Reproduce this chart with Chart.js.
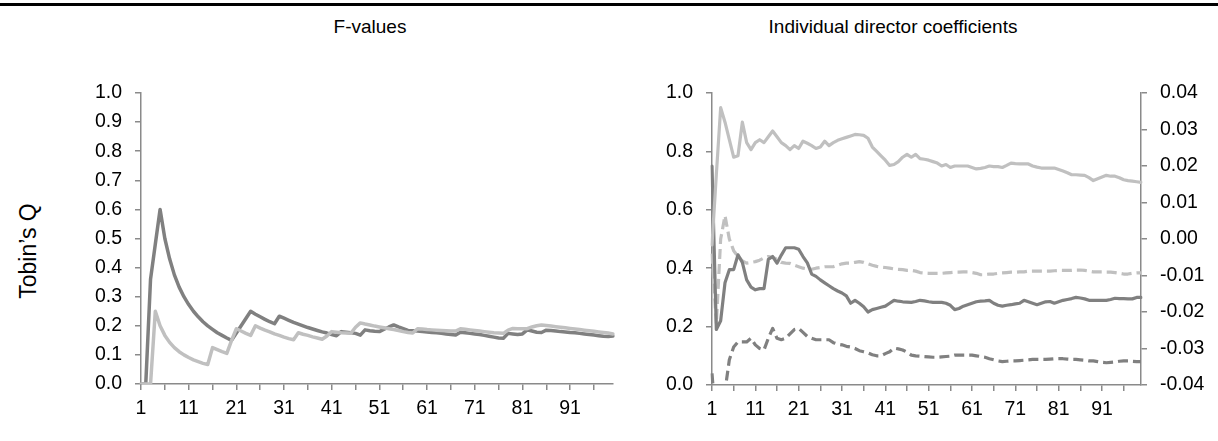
<!DOCTYPE html>
<html><head><meta charset="utf-8">
<script src="https://cdn.jsdelivr.net/npm/chart.js@4.4.1/dist/chart.umd.min.js"></script>
<style>
html,body{margin:0;padding:0;background:#fff;}
body{width:1218px;height:441px;position:relative;overflow:hidden;font-family:"Liberation Sans",Arial,sans-serif;color:#000;}
#rule{position:absolute;left:0;top:3px;width:1218px;height:3px;background:#000;}
.title{position:absolute;top:15px;font-size:19px;line-height:24px;text-align:center;white-space:nowrap;}
#t1{left:270px;width:200px;}
#t2{left:743px;width:300px;}
#ylab{position:absolute;left:28px;top:251px;font-size:23px;line-height:26px;transform:translate(-50%,-50%) rotate(-90deg);white-space:nowrap;}
#c1{position:absolute;left:0;top:0;}
#c2{position:absolute;left:640px;top:0;}
</style></head>
<body>
<div id="rule"></div>
<div class="title" id="t1">F-values</div>
<div class="title" id="t2">Individual director coefficients</div>
<div id="ylab">Tobin’s Q</div>
<canvas id="c1" width="630" height="441"></canvas>
<canvas id="c2" width="578" height="441"></canvas>
<script>
// ---- data ----
const CATEGORIES = Array.from({length: 100}, (_, i) => String(i + 1));

// F-values (left panel)
const fDark = [
  0, 0, 0.36, 0.48, 0.60, 0.50, 0.43, 0.375, 0.333, 0.30,
  0.273, 0.25, 0.231, 0.214, 0.20, 0.188, 0.176, 0.167, 0.158, 0.15,
  0.175, 0.20, 0.225, 0.25, 0.24, 0.231, 0.222, 0.214, 0.207, 0.233,
  0.226, 0.219, 0.212, 0.206, 0.20, 0.194, 0.189, 0.184, 0.179, 0.175,
  0.17, 0.166, 0.18, 0.178, 0.176, 0.174, 0.168, 0.186, 0.183, 0.181,
  0.18, 0.188, 0.196, 0.203, 0.196, 0.19, 0.184, 0.183, 0.182, 0.18,
  0.179, 0.177, 0.176, 0.174, 0.172, 0.17, 0.168, 0.178, 0.176, 0.174,
  0.172, 0.17, 0.167, 0.164, 0.161, 0.158, 0.157, 0.174, 0.172, 0.17,
  0.172, 0.186, 0.182, 0.178, 0.177, 0.185, 0.184, 0.182, 0.18, 0.179,
  0.177, 0.176, 0.174, 0.172, 0.17, 0.168, 0.166, 0.164, 0.163, 0.165
];
const fLight = [
  0, 0, 0, 0.25, 0.20, 0.167, 0.143, 0.125, 0.111, 0.10,
  0.091, 0.083, 0.077, 0.071, 0.067, 0.125, 0.118, 0.111, 0.105, 0.15,
  0.19, 0.182, 0.174, 0.167, 0.20, 0.192, 0.185, 0.179, 0.172, 0.167,
  0.161, 0.156, 0.152, 0.176, 0.171, 0.167, 0.162, 0.158, 0.154, 0.165,
  0.18, 0.178, 0.176, 0.175, 0.174, 0.195, 0.21, 0.206, 0.203, 0.199,
  0.196, 0.193, 0.19, 0.187, 0.184, 0.18, 0.177, 0.175, 0.19, 0.189,
  0.187, 0.186, 0.185, 0.184, 0.183, 0.182, 0.182, 0.19, 0.188, 0.186,
  0.184, 0.182, 0.18, 0.178, 0.176, 0.175, 0.174, 0.185, 0.191, 0.19,
  0.19, 0.19, 0.196, 0.20, 0.203, 0.201, 0.199, 0.197, 0.195, 0.193,
  0.191, 0.189, 0.187, 0.185, 0.183, 0.181, 0.179, 0.177, 0.175, 0.172
];

// Individual director coefficients (right panel)
const coefLightSolid = [
  0.48, 0.72, 0.95, 0.90, 0.84, 0.78, 0.785, 0.90, 0.83, 0.806,
  0.83, 0.84, 0.83, 0.85, 0.87, 0.85, 0.83, 0.82, 0.806, 0.82,
  0.81, 0.835, 0.828, 0.82, 0.81, 0.815, 0.835, 0.82, 0.83, 0.838,
  0.843, 0.848, 0.853, 0.858, 0.857, 0.855, 0.845, 0.815, 0.80, 0.785,
  0.77, 0.752, 0.755, 0.765, 0.78, 0.79, 0.78, 0.79, 0.775, 0.773,
  0.77, 0.765, 0.76, 0.75, 0.755, 0.745, 0.75, 0.75, 0.75, 0.75,
  0.745, 0.74, 0.742, 0.745, 0.75, 0.748, 0.748, 0.745, 0.752, 0.76,
  0.758, 0.757, 0.757, 0.757, 0.75, 0.746, 0.743, 0.743, 0.743, 0.743,
  0.738, 0.733, 0.727, 0.72, 0.72, 0.719, 0.718, 0.71, 0.70, 0.706,
  0.712, 0.718, 0.715, 0.715, 0.71, 0.703, 0.70, 0.698, 0.696, 0.694
];
const coefDarkSolid = [
  0.75, 0.19, 0.22, 0.35, 0.395, 0.395, 0.446, 0.42, 0.36, 0.335,
  0.326, 0.33, 0.33, 0.43, 0.44, 0.417, 0.445, 0.47, 0.47, 0.47,
  0.465, 0.44, 0.418, 0.38, 0.372, 0.36, 0.35, 0.34, 0.33, 0.322,
  0.315, 0.305, 0.28, 0.29, 0.28, 0.268, 0.25, 0.258, 0.262, 0.266,
  0.27, 0.28, 0.29, 0.287, 0.285, 0.284, 0.283, 0.286, 0.29, 0.288,
  0.285, 0.283, 0.283, 0.283, 0.28, 0.273, 0.258, 0.262, 0.27, 0.275,
  0.28, 0.285, 0.287, 0.288, 0.29, 0.28, 0.273, 0.27, 0.273, 0.275,
  0.278, 0.28, 0.29, 0.285, 0.28, 0.275, 0.28, 0.285, 0.286, 0.28,
  0.285, 0.29, 0.293, 0.296, 0.30, 0.298, 0.295, 0.29, 0.29, 0.29,
  0.29, 0.29, 0.293, 0.297, 0.296, 0.296, 0.295, 0.295, 0.30, 0.30
];
// dashed series, read on the right-hand axis
const coefLightDashed = [
  -0.0040, -0.0232, 0.0000, 0.0064, 0.0000, -0.0032, -0.0048, -0.0060, -0.0066, -0.0064,
  -0.0062, -0.0058, -0.0052, -0.0048, -0.0050, -0.0056, -0.0064, -0.0066, -0.0067, -0.0072,
  -0.0076, -0.0080, -0.0082, -0.0083, -0.0080, -0.0078, -0.0076, -0.0076, -0.0076, -0.0072,
  -0.0068, -0.0066, -0.0066, -0.0064, -0.0062, -0.0064, -0.0068, -0.0072, -0.0075, -0.0077,
  -0.0078, -0.0080, -0.0082, -0.0083, -0.0084, -0.0086, -0.0086, -0.0088, -0.0092, -0.0093,
  -0.0094, -0.0094, -0.0094, -0.0094, -0.0093, -0.0092, -0.0091, -0.0091, -0.0090, -0.0090,
  -0.0092, -0.0094, -0.0098, -0.0098, -0.0096, -0.0096, -0.0094, -0.0093, -0.0092, -0.0091,
  -0.0091, -0.0090, -0.0090, -0.0088, -0.0088, -0.0088, -0.0088, -0.0088, -0.0088, -0.0087,
  -0.0086, -0.0086, -0.0086, -0.0086, -0.0085, -0.0085, -0.0086, -0.0088, -0.0090, -0.0090,
  -0.0090, -0.0091, -0.0091, -0.0092, -0.0094, -0.0096, -0.0096, -0.0094, -0.0093, -0.0093
];
const coefDarkDashed = [
  -0.0368, -0.0520, -0.0480, -0.0416, -0.0331, -0.0296, -0.0282, -0.0282, -0.0282, -0.0272,
  -0.0290, -0.0300, -0.0304, -0.0272, -0.0245, -0.0272, -0.0276, -0.0272, -0.0260, -0.0248,
  -0.0245, -0.0256, -0.0267, -0.0272, -0.0276, -0.0276, -0.0276, -0.0276, -0.0284, -0.0288,
  -0.0290, -0.0294, -0.0296, -0.0300, -0.0306, -0.0309, -0.0312, -0.0317, -0.0320, -0.0320,
  -0.0314, -0.0309, -0.0299, -0.0301, -0.0304, -0.0310, -0.0318, -0.0320, -0.0321, -0.0322,
  -0.0323, -0.0324, -0.0324, -0.0323, -0.0322, -0.0321, -0.0318, -0.0318, -0.0318, -0.0318,
  -0.0318, -0.0320, -0.0322, -0.0324, -0.0328, -0.0331, -0.0334, -0.0336, -0.0335, -0.0334,
  -0.0334, -0.0333, -0.0332, -0.0331, -0.0330, -0.0330, -0.0330, -0.0330, -0.0329, -0.0328,
  -0.0328, -0.0328, -0.0329, -0.0330, -0.0330, -0.0331, -0.0332, -0.0334, -0.0334, -0.0336,
  -0.0338, -0.0339, -0.0338, -0.0337, -0.0335, -0.0334, -0.0334, -0.0335, -0.0336, -0.0336
];

// ---- styling ----
const AX = '#8a8a8a';
const DARK = '#808080';
const LIGHT = '#c0c0c0';
const FONT = {family: '"Liberation Sans", Arial, sans-serif', size: 19.5};
const NONE = 'rgba(0,0,0,0)';

function xScale() {
  return {
    type: 'category', offset: false,
    grid: {drawOnChartArea: false, drawTicks: true, tickLength: 6, lineWidth: 1.5, tickWidth: 1.5,
      color: c => (c.index % 5 === 0 ? AX : NONE),
      tickColor: c => (c.index % 5 === 0 ? AX : NONE)},
    border: {display: true, color: AX, width: 1.5},
    ticks: {autoSkip: false, maxRotation: 0, minRotation: 0, padding: 7, color: '#000', font: FONT,
      callback: (v, i) => (i % 10 === 0 ? CATEGORIES[i] : '')},
    afterFit: s => { s.height = 30; s.paddingLeft = 0; s.paddingRight = 0; }
  };
}
function yScale(pos, min, max, step, dec, width) {
  return {
    position: pos, min: min, max: max,
    grid: {drawOnChartArea: false, drawTicks: true, tickLength: 6, color: AX, lineWidth: 1.5, tickWidth: 1.5},
    border: {display: true, color: AX, width: 1.5},
    ticks: {stepSize: step, padding: 13, color: '#000', font: FONT,
      callback: v => (Math.abs(v) < 1e-9 ? 0 : v).toFixed(dec)},
    afterFit: s => { s.width = width; s.paddingTop = 0; s.paddingBottom = 0; }
  };
}
const common = {
  responsive: false, animation: false, devicePixelRatio: 1,
  plugins: {legend: {display: false}, tooltip: {enabled: false}, title: {display: false}},
  elements: {point: {radius: 0}, line: {tension: 0, borderJoinStyle: 'round'}}
};

new Chart(document.getElementById('c1'), {
  type: 'line',
  data: {
    labels: CATEGORIES,
    datasets: [
      {data: fLight, borderColor: LIGHT, borderWidth: 3.5, borderCapStyle: 'round'},
      {data: fDark, borderColor: DARK, borderWidth: 3.5, borderCapStyle: 'round'}
    ]
  },
  options: Object.assign({}, common, {
    layout: {padding: {left: 0, top: 93, right: 17, bottom: 27}},
    scales: {x: xScale(), y: yScale('left', 0, 1, 0.1, 1, 141)}
  })
});

new Chart(document.getElementById('c2'), {
  type: 'line',
  data: {
    labels: CATEGORIES,
    datasets: [
      {data: coefLightSolid, yAxisID: 'y', borderColor: LIGHT, borderWidth: 3.2, borderCapStyle: 'round'},
      {data: coefDarkSolid, yAxisID: 'y', borderColor: DARK, borderWidth: 3.2, borderCapStyle: 'round'},
      {data: coefLightDashed, yAxisID: 'y2', borderColor: LIGHT, borderWidth: 3.2, borderDash: [10, 5], borderCapStyle: 'butt'},
      {data: coefDarkDashed, yAxisID: 'y2', borderColor: DARK, borderWidth: 3.2, borderDash: [10, 5], borderCapStyle: 'butt'}
    ]
  },
  options: Object.assign({}, common, {
    layout: {padding: {left: 0, top: 93, right: 0, bottom: 26}},
    scales: {
      x: xScale(),
      y: yScale('left', 0, 1, 0.2, 1, 72),
      y2: yScale('right', -0.04, 0.04, 0.01, 2, 77)
    }
  })
});
</script>
</body></html>
